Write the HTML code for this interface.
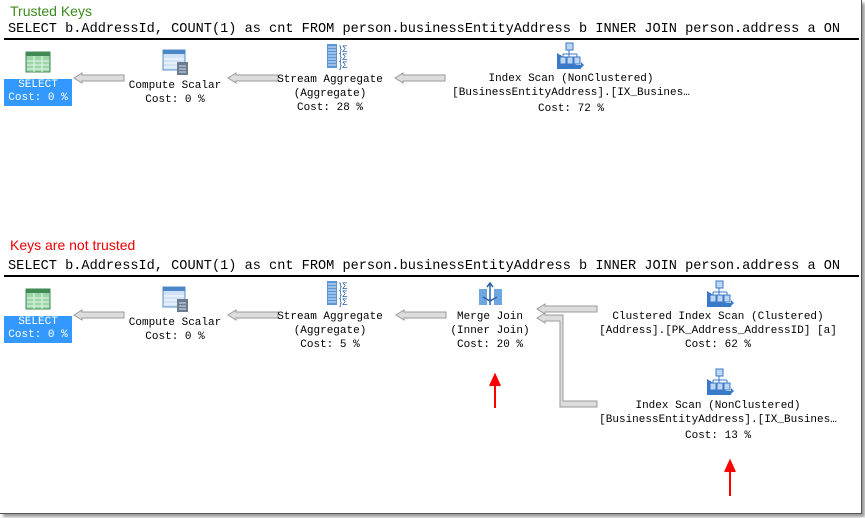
<!DOCTYPE html>
<html><head><meta charset="utf-8"><style>
body{margin:0;width:865px;height:518px;background:#fff;position:relative;overflow:hidden;font-family:"Liberation Mono",monospace}
.frame{position:absolute;left:0;top:0;width:861px;height:513px;border-right:1px solid #555;border-bottom:1px solid #555;box-shadow:3px 3px 3px #999}
.t{position:absolute;font-size:11px;line-height:14px;color:#000;text-align:center;white-space:nowrap;transform:translateX(-50%)}
.sql{position:absolute;left:8px;font-size:13.6px;white-space:nowrap}
.hr{position:absolute;left:4px;width:855px;height:2px;background:#000}
.h{position:absolute;left:10px;font-family:"Liberation Sans",sans-serif;font-size:14px}
.sel{position:absolute;left:4px;width:68px;height:27px;background:#3399ff;color:#fff;font-size:11px;line-height:13px;text-align:center}
</style></head><body>
<div class="frame"></div>
<div class="h" style="top:3px;color:#3a8a1e">Trusted Keys</div>
<div class="sql" style="top:22px">SELECT b.AddressId, COUNT(1) as cnt FROM person.businessEntityAddress b INNER JOIN person.address a ON</div>
<div class="hr" style="top:38px"></div>
<div class="h" style="top:237px;color:#e00">Keys are not trusted</div>
<div class="sql" style="top:259px">SELECT b.AddressId, COUNT(1) as cnt FROM person.businessEntityAddress b INNER JOIN person.address a ON</div>
<div class="hr" style="top:275px"></div>

<svg width="865" height="518" style="position:absolute;left:0;top:0">
<defs>
<g id="tbl"><rect x="0" y="0" width="24" height="20" fill="#9cd6a8" stroke="#3f8a55"/><rect x="0" y="0" width="24" height="4" fill="#3f8a55"/><path d="M1 9H23M1 13H23M1 17H23M8 4V20M16 4V20" stroke="#e8f6ea" stroke-width="1"/></g>
<g id="cs"><rect x="0" y="0" width="22" height="20" fill="#cfe2f6" stroke="#5a8fc8"/><rect x="0" y="0" width="22" height="4" fill="#4b86c6"/><path d="M1 9H21M1 13H21M1 17H21" stroke="#fff"/><rect x="14" y="12" width="11" height="13" fill="#6a7c90"/><path d="M16 16H23M16 19H23M16 22H23" stroke="#dde"/></g>
<g id="sa"><rect x="0" y="0" width="10" height="24" fill="#5b95d6"/><path d="M1 3H9M1 6H9M1 9H9M1 12H9M1 15H9M1 18H9M1 21H9" stroke="#dbe9f7"/><text x="12" y="8" font-size="9" fill="#2a60a8" font-family="Liberation Sans">}Σ</text><text x="12" y="16" font-size="9" fill="#2a60a8" font-family="Liberation Sans">}Σ</text><text x="12" y="24" font-size="9" fill="#2a60a8" font-family="Liberation Sans">}Σ</text></g>
<g id="is"><path d="M0 10V25H24L27 22L24 19V25" fill="#3a78c8"/><rect x="0" y="12" width="4" height="13" fill="#3a78c8"/><rect x="9" y="0" width="7" height="7" fill="#bcd6f2" stroke="#3a78c8"/><path d="M12 7V11M6 11H20M6 11V14M12 11V14M20 11V14" stroke="#3a78c8"/><rect x="3" y="14" width="6" height="7" fill="#bcd6f2" stroke="#3a78c8"/><rect x="10" y="14" width="6" height="7" fill="#bcd6f2" stroke="#3a78c8"/><rect x="17" y="14" width="6" height="7" fill="#bcd6f2" stroke="#3a78c8"/><rect x="0" y="22" width="24" height="4" fill="#3a78c8"/></g>
<g id="mj"><rect x="0" y="6" width="8" height="16" fill="#6fa6e0"/><rect x="15" y="6" width="8" height="16" fill="#6fa6e0"/><path d="M11 0V22M8 4L11 0L14 4M4 14L11 18L18 14" stroke="#2a60a8" stroke-width="1.5" fill="none"/></g>
<g id="arr"><path d="M0 0L8 -5V-3H50V3H8V5Z" fill="#ddd" stroke="#999" stroke-width="1"/></g>
</defs>
<use href="#tbl" x="26" y="52"/>
<use href="#cs" x="163" y="50"/>
<use href="#sa" x="327" y="44"/>
<use href="#is" x="557" y="43"/>
<use href="#arr" x="74" y="78"/>
<use href="#arr" x="228" y="78"/>
<use href="#arr" x="395" y="78"/>
<use href="#tbl" x="26" y="289"/>
<use href="#cs" x="163" y="287"/>
<use href="#sa" x="327" y="281"/>
<use href="#mj" x="479" y="283"/>
<use href="#is" x="707" y="281"/>
<use href="#is" x="707" y="369"/>
<use href="#arr" x="74" y="315"/>
<use href="#arr" x="228" y="315"/>
<use href="#arr" x="396" y="315"/>
<path d="M537 309L545 304V306H597V312H545V314Z" fill="#ddd" stroke="#999"/>
<path d="M537 318L545 313V315H563V401H597V407H560V321H545V323Z" fill="#ddd" stroke="#999"/>
<path d="M495 408V378M490 386L495 375L500 386" stroke="#f00" stroke-width="2" fill="#f00"/>
<path d="M730 496V464M725 472L730 461L735 472" stroke="#f00" stroke-width="2" fill="#f00"/>
</svg>

<div class="sel" style="top:79px">SELECT<br>Cost: 0 %</div>
<div class="t" style="left:175px;top:79px">Compute Scalar<br>Cost: 0 %</div>
<div class="t" style="left:330px;top:73px">Stream Aggregate<br>(Aggregate)<br>Cost: 28 %</div>
<div class="t" style="left:571px;top:72px">Index Scan (NonClustered)<br>[BusinessEntityAddress].[IX_Busines…<br><span style="display:inline-block;margin-top:2px">Cost: 72 %</span></div>

<div class="sel" style="top:316px">SELECT<br>Cost: 0 %</div>
<div class="t" style="left:175px;top:316px">Compute Scalar<br>Cost: 0 %</div>
<div class="t" style="left:330px;top:310px">Stream Aggregate<br>(Aggregate)<br>Cost: 5 %</div>
<div class="t" style="left:490px;top:310px">Merge Join<br>(Inner Join)<br>Cost: 20 %</div>
<div class="t" style="left:718px;top:310px">Clustered Index Scan (Clustered)<br>[Address].[PK_Address_AddressID] [a]<br>Cost: 62 %</div>
<div class="t" style="left:718px;top:399px">Index Scan (NonClustered)<br>[BusinessEntityAddress].[IX_Busines…<br><span style="display:inline-block;margin-top:2px">Cost: 13 %</span></div>
</body></html>
